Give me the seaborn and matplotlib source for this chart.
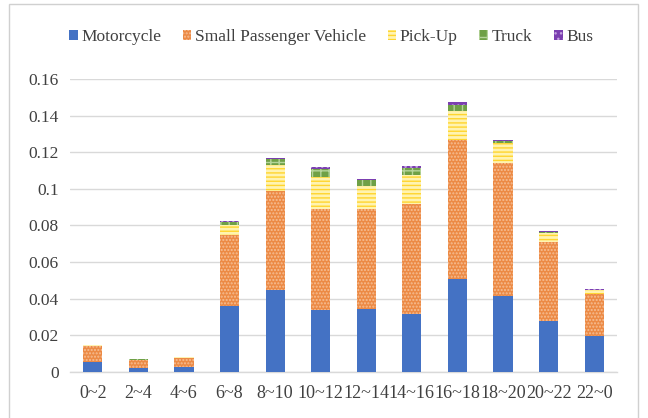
import matplotlib
matplotlib.use("Agg")
import matplotlib.pyplot as plt
from matplotlib.patches import Rectangle, Patch
import numpy as np
import pandas as pd
import seaborn as sns

# Time-of-day bins and share of traffic by vehicle type
periods = ["0~2", "2~4", "4~6", "6~8", "8~10", "10~12", "12~14", "14~16",
           "16~18", "18~20", "20~22", "22~0"]
motorcycle = [0.0055, 0.0023, 0.0029, 0.0360, 0.0446, 0.0339, 0.0346, 0.0317,
              0.0506, 0.0417, 0.0280, 0.0197]
small_passenger = [0.0087, 0.0043, 0.0046, 0.0388, 0.0544, 0.0551, 0.0544, 0.0599,
                   0.0761, 0.0726, 0.0432, 0.0229]
pick_up = [0.0003, 0.0002, 0.0005, 0.0055, 0.0141, 0.0177, 0.0126, 0.0160,
           0.0160, 0.0106, 0.0049, 0.0022]
truck = [0.0001, 0.0001, 0.0001, 0.0015, 0.0031, 0.0042, 0.0033, 0.0040,
         0.0031, 0.0011, 0.0005, 0.0002]
bus = [0.0001, 0.0001, 0.0001, 0.0007, 0.0007, 0.0009, 0.0007, 0.0009,
       0.0018, 0.0007, 0.0006, 0.0002]
y_ticks = [0, 0.02, 0.04, 0.06, 0.08, 0.1, 0.12, 0.14, 0.16]
y_tick_labels = ["0", "0.02", "0.04", "0.06", "0.08", "0.1", "0.12", "0.14", "0.16"]

series = [
    ("Motorcycle", motorcycle, "#4472C4", None, "#4472C4"),
    ("Small Passenger Vehicle", small_passenger, "#EC8A45", ".....", "#F6BE94"),
    ("Pick-Up", pick_up, "#FFF3B0", "----", "#FFD52E"),
    ("Truck", truck, "#6FA046", "++", "#B5D49A"),
    ("Bus", bus, "#7B3FB0", "...", "#C3A2E0"),
]

sns.set_style("white")
plt.rcParams["font.family"] = ["Liberation Serif", "DejaVu Serif"]
plt.rcParams["hatch.linewidth"] = 1.0

fig = plt.figure(figsize=(6.48, 4.18), dpi=100)
ax = fig.add_axes([70 / 648, 1 - 372 / 418, (617 - 70) / 648, (372 - 79) / 418])

bottom = np.zeros(len(periods))
handles = []
for name, vals, face, hatch, hcol in series:
    df = pd.DataFrame({"period": periods, "value": vals})
    n_before = len(ax.patches)
    sns.barplot(data=df, x="period", y="value", ax=ax, color=face,
                bottom=bottom, width=0.42, saturation=1, zorder=3)
    for p in ax.patches[n_before:]:
        p.set_facecolor(face)
        if hatch:
            p.set_hatch(hatch)
            p.set_edgecolor(hcol)
            p.set_linewidth(0)
        else:
            p.set_edgecolor("none")
    bottom = bottom + np.array(vals)
    handles.append(Patch(facecolor=face, edgecolor=hcol if hatch else "none",
                         hatch=hatch, linewidth=0, label=name))

ax.set_ylim(0, 0.16)
ax.set_xlim(-0.5, len(periods) - 0.5)
ax.set_yticks(y_ticks)
ax.set_yticklabels(y_tick_labels)
ax.set_xlabel("")
ax.set_ylabel("")
ax.yaxis.grid(True, color="#D9D9D9", linewidth=1.0, zorder=0)
ax.set_axisbelow(True)
for s in ["top", "right", "left"]:
    ax.spines[s].set_visible(False)
ax.spines["bottom"].set_color("#D9D9D9")
ax.spines["bottom"].set_linewidth(1.0)
ax.tick_params(axis="both", length=0, labelsize=12.5, colors="#404040", pad=8)
ax.tick_params(axis="x", labelsize=13, pad=9)

fig.legend(handles=handles, loc="center", bbox_to_anchor=(331 / 648, 1 - 37 / 418),
           ncol=5, frameon=False, fontsize=12.5, handlelength=0.5,
           handleheight=0.5, handletextpad=0.2, columnspacing=1.25,
           labelcolor="#404040")

# thin chart-area border
fig.patches.append(Rectangle((9 / 648, -0.02), (638 - 9) / 648, 1 - 4 / 418 + 0.02,
                             transform=fig.transFigure, fill=False,
                             edgecolor="#D0D0D0", linewidth=1.0))

fig.savefig("out.png", dpi=100, facecolor="white")
